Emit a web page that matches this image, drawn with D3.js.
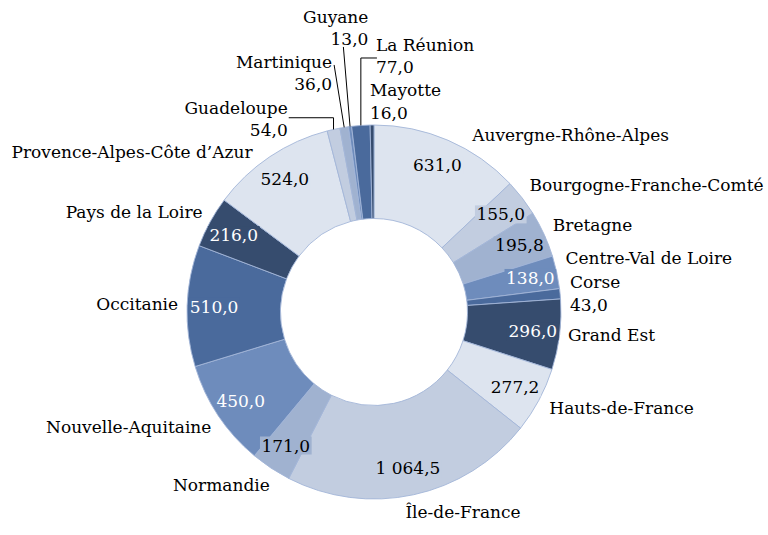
<!DOCTYPE html>
<html>
<head>
<meta charset="utf-8">
<script src="https://cdn.jsdelivr.net/npm/d3@7"></script>
<style>
  html, body { margin: 0; padding: 0; background: #fff; }
  svg { display: block; }
  text { font-family: "DejaVu Serif", "Liberation Serif", serif; font-size: 17px; fill: #000; }
</style>
</head>
<body>
<svg width="768" height="535"></svg>
<script>
// ---- Données
const regions = [
    'Auvergne-Rhône-Alpes', 'Bourgogne-Franche-Comté', 'Bretagne', 'Centre-Val de Loire',
    'Corse', 'Grand Est', 'Hauts-de-France', 'Île-de-France', 'Normandie',
    'Nouvelle-Aquitaine', 'Occitanie', 'Pays de la Loire', 'Provence-Alpes-Côte d’Azur',
    'Guadeloupe', 'Martinique', 'Guyane', 'La Réunion', 'Mayotte'
];
const valeurs = [
    631.0, 155.0, 195.8, 138.0, 43.0, 296.0, 277.2, 1064.5, 171.0,
    450.0, 510.0, 216.0, 524.0, 54.0, 36.0, 13.0, 77.0, 16.0
];
// petites parts : valeur affichée à l'extérieur, sous le nom
const valeursExterieures = ['Corse', 'Guadeloupe', 'Martinique', 'Guyane', 'La Réunion', 'Mayotte'];

const couleurs = ['#dde4ef', '#c2cde0', '#a0b2d0', '#6e8cbc', '#4a6a9c', '#364c6e'];

// ---- Placement des étiquettes (décalage par rapport au point r = 200 sur l'angle médian)
const placement = {
    'Auvergne-Rhône-Alpes':        { a: 'start', dx: 19,  dy: 7 },
    'Bourgogne-Franche-Comté':     { a: 'start', dx: -3,  dy: -5 },
    'Bretagne':                    { a: 'start', dx: -3,  dy: -4 },
    'Centre-Val de Loire':         { a: 'start', dx: -4,  dy: -11 },
    'Corse':                       { a: 'start', dx: -3,  dy: -10.5 },
    'Grand Est':                   { a: 'start', dx: -4.5, dy: -1 },
    'Hauts-de-France':             { a: 'start', dx: -1,  dy: 2 },
    'Île-de-France':               { a: 'start', dx: -11, dy: 4.5 },
    'Normandie':                   { a: 'end',   dx: 6,   dy: 6 },
    'Nouvelle-Aquitaine':          { a: 'end',   dx: 4,   dy: 4 },
    'Occitanie':                   { a: 'end',   dx: 4,   dy: -1.5 },
    'Pays de la Loire':            { a: 'end',   dx: 4,   dy: -4 },
    'Provence-Alpes-Côte d’Azur':  { a: 'end',   dx: -10, dy: 6 },
    'Guadeloupe':                  { a: 'end',   dx: -43, dy: -9 },
    'Martinique':                  { a: 'end',   dx: -10, dy: -52.6 },
    'Guyane':                      { a: 'end',   dx: 20,  dy: -96.7 },
    'La Réunion':                  { a: 'start', dx: 16,  dy: -67.5 },
    'Mayotte':                     { a: 'start', dx: -2,  dy: -22 }
};
// lignes de rappel : point de départ relatif à l'étiquette, coude horizontal ou non
const rappels = {
    'Guadeloupe': { dx: 1,   dy: 10, coude: true },
    'Martinique': { dx: 2,   dy: 3,  coude: false },
    'Guyane':     { dx: -25, dy: 30, coude: false },
    'La Réunion': { dx: 1,   dy: 13, coude: true }
};

// ---- Dimensions
const svg = d3.select('svg');
const cx = 374, cy = 312;
const rExt = 187, rInt = 93.5;

const fmt = v => {
    const s = d3.format(',.1f')(v);
    return s.replace(/,/g, ' ').replace('.', ',');
};

const donnees = regions.map((r, i) => ({ region: r, valeur: valeurs[i], i }));

const pie = d3.pie().sort(null).value(d => d.valeur);
const arcs = pie(donnees);

const arc = d3.arc().innerRadius(rInt).outerRadius(rExt);
const arcValeur = d3.arc().innerRadius(160).outerRadius(160);
const arcNom = d3.arc().innerRadius(200).outerRadius(200);
const arcBord = d3.arc().innerRadius(rExt).outerRadius(rExt);

const g = svg.append('g').attr('transform', `translate(${cx},${cy})`);

// Parts
g.selectAll('path.part')
    .data(arcs)
    .join('path')
    .attr('class', 'part')
    .attr('d', arc)
    .attr('fill', d => couleurs[d.data.i % couleurs.length])
    .attr('stroke', '#a3b6d8')
    .attr('stroke-width', 0.9);

// Valeurs dans l'anneau (avec fond de la couleur de la part)
const interieurs = arcs.filter(d => !valeursExterieures.includes(d.data.region));
const gVal = g.selectAll('g.val')
    .data(interieurs)
    .join('g')
    .attr('class', 'val')
    .attr('transform', d => `translate(${arcValeur.centroid(d)})`);

gVal.append('text')
    .attr('text-anchor', 'middle')
    .attr('dominant-baseline', 'central')
    .style('fill', d => (d.data.i % couleurs.length) >= 3 ? '#fff' : '#000')
    .text(d => fmt(d.data.valeur));

gVal.each(function (d) {
    const t = d3.select(this).select('text');
    const b = t.node().getBBox();
    d3.select(this).insert('rect', 'text')
        .attr('x', b.x - 1.5)
        .attr('y', b.y + 1)
        .attr('width', b.width + 3)
        .attr('height', b.height - 2)
        .attr('fill', couleurs[d.data.i % couleurs.length]);
});

// Noms (et valeurs des petites parts)
const positionNom = d => {
    const [x, y] = arcNom.centroid(d);
    const p = placement[d.data.region];
    return [x + p.dx, y + p.dy];
};

const gNom = g.selectAll('g.nom')
    .data(arcs)
    .join('g')
    .attr('class', 'nom')
    .attr('transform', d => `translate(${positionNom(d)})`);

gNom.append('text')
    .attr('text-anchor', d => placement[d.data.region].a)
    .attr('dominant-baseline', 'central')
    .text(d => d.data.region);

gNom.filter(d => valeursExterieures.includes(d.data.region))
    .append('text')
    .attr('y', 22.5)
    .attr('text-anchor', d => placement[d.data.region].a)
    .attr('dominant-baseline', 'central')
    .text(d => fmt(d.data.valeur));

// Lignes de rappel
g.selectAll('path.rappel')
    .data(arcs.filter(d => rappels[d.data.region]))
    .join('path')
    .attr('class', 'rappel')
    .attr('fill', 'none')
    .attr('stroke', '#000')
    .attr('stroke-width', 1)
    .attr('d', d => {
        const r = rappels[d.data.region];
        const [lx, ly] = positionNom(d);
        const [px, py] = arcBord.centroid(d);
        const x0 = lx + r.dx, y0 = ly + r.dy;
        const pts = r.coude ? [[x0, y0], [px, y0], [px, py]] : [[x0, y0], [px, py]];
        return d3.line()(pts);
    });
</script>
</body>
</html>
